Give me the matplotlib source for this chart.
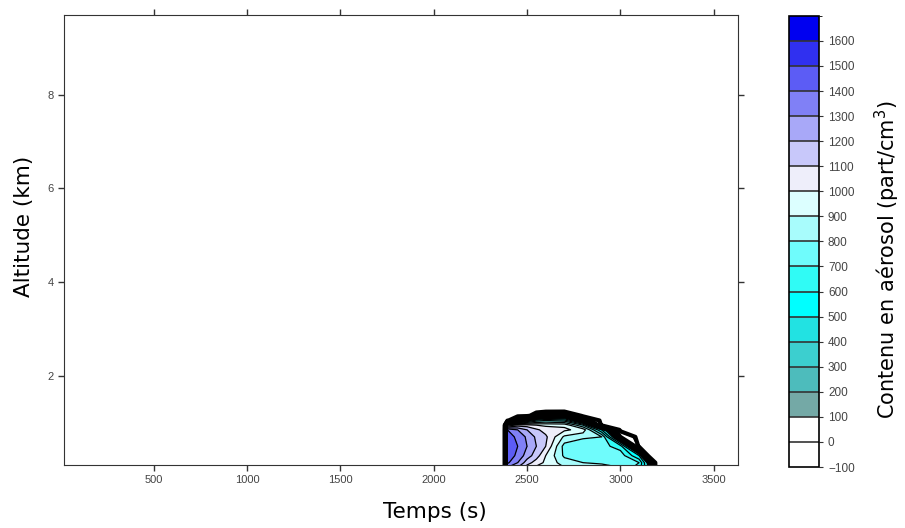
import numpy as np
import matplotlib
matplotlib.use("Agg")
import matplotlib.pyplot as plt
from matplotlib.colors import ListedColormap, BoundaryNorm

# contour levels / colour of each band
levels = list(range(-100, 1800, 100))
band_colors = ['#ffffff', '#ffffff', '#74a9a6', '#4dbcbc', '#3ccfcf', '#22e2e2',
               '#00ffff', '#30fbf5', '#6ffcfc', '#a8fcfc', '#dcffff', '#eeeefa',
               '#c8c8fa', '#a8a8f8', '#8080f6', '#5c5cf5', '#3030f0', '#0000f0']
cbar_ticks = list(range(-100, 1700, 100))

# aerosol field
temps = [2380, 2395, 2450, 2500, 2550, 2600, 2700, 2800, 2900, 3000, 3100, 3150,
         3190, 3210]
altitudes = [0.05, 0.15, 0.3, 0.5, 0.7, 0.85, 0.95, 1.05, 1.15, 1.25]
# one list per time column, bottom -> top
col_2380 = [-50, -50, -50, -50, -50, -50, -50, -50, -50, -50]
col_2395 = [1300, 1420, 1450, 1450, 1440, 1400, 900, -50, -50, -50]
col_2450 = [1200, 1300, 1380, 1400, 1380, 1300, 1050, 200, -50, -50]
col_2500 = [1050, 1150, 1250, 1300, 1280, 1200, 1050, 450, -50, -50]
col_2550 = [980, 1050, 1150, 1200, 1180, 1120, 1000, 650, 50, -50]
col_2600 = [950, 980, 1000, 1100, 1120, 1060, 980, 700, 200, -50]
col_2700 = [900, 850, 780, 760, 880, 1020, 980, 650, 250, -50]
col_2800 = [880, 800, 720, 720, 820, 960, 700, 200, -50, -50]
col_2900 = [850, 780, 720, 740, 800, 500, -50, -50, -50, -50]
col_3000 = [800, 760, 760, 650, 100, -50, -50, -50, -50, -50]
col_3100 = [650, 700, 500, -50, -50, -50, -50, -50, -50, -50]
col_3150 = [400, 350, -50, -50, -50, -50, -50, -50, -50, -50]
col_3190 = [-50, -50, -50, -50, -50, -50, -50, -50, -50, -50]
col_3210 = [-50, -50, -50, -50, -50, -50, -50, -50, -50, -50]

xticks = [500, 1000, 1500, 2000, 2500, 3000, 3500]
yticks = [2, 4, 6, 8]

field = np.array([col_2380, col_2395, col_2450, col_2500, col_2550, col_2600,
                  col_2700, col_2800, col_2900, col_3000, col_3100, col_3150,
                  col_3190, col_3210], dtype=float).T

cmap = ListedColormap(band_colors)
norm = BoundaryNorm(levels, cmap.N)

fig = plt.figure(figsize=(9.05, 5.28), dpi=100)
ax = fig.add_axes([0.0707, 0.1193, 0.7448, 0.8523])
cax = fig.add_axes([0.8718, 0.1155, 0.0331, 0.8545])

X, Y = np.meshgrid(temps, altitudes)
cf = ax.contourf(X, Y, field, levels=levels, cmap=cmap, norm=norm)
ax.contour(X, Y, field, levels=levels[1:], colors='black', linewidths=0.9,
           linestyles='solid')
ax.contour(X, Y, field, levels=[-20, 100, 200, 300], colors='black',
           linewidths=3, linestyles='solid')

ax.set_xlim(20, 3630)
ax.set_ylim(0.1, 9.7)
ax.set_xticks(xticks)
ax.set_yticks(yticks)
ax.tick_params(direction='out', length=4, width=1, labelsize=8, colors='#333333',
               top=True, right=True, labelcolor='#444444')
for lab in ax.get_xticklabels() + ax.get_yticklabels():
    lab.set_family('Liberation Sans')
for sp in ax.spines.values():
    sp.set_color('#333333')
ax.set_xlabel('Temps (s)', fontsize=15.5)
ax.set_ylabel('Altitude (km)', fontsize=15.5)
ax.xaxis.set_label_coords(0.55, -0.082)
ax.yaxis.set_label_coords(-0.045, 0.53)

cb = fig.colorbar(cf, cax=cax, ticks=cbar_ticks, drawedges=True)
cb.outline.set_linewidth(1.2)
cb.dividers.set_color('#333333')
cb.dividers.set_linewidth(1.2)
cax.tick_params(labelsize=8.5, length=3, colors='#333333', labelcolor='#444444')
for lab in cax.get_yticklabels():
    lab.set_family('Liberation Sans')
cax.set_ylabel('Contenu en aérosol (part/cm$^3$)', fontsize=15)
cax.yaxis.set_label_coords(2.8, 0.46)

fig.savefig('out.png', dpi=100)
